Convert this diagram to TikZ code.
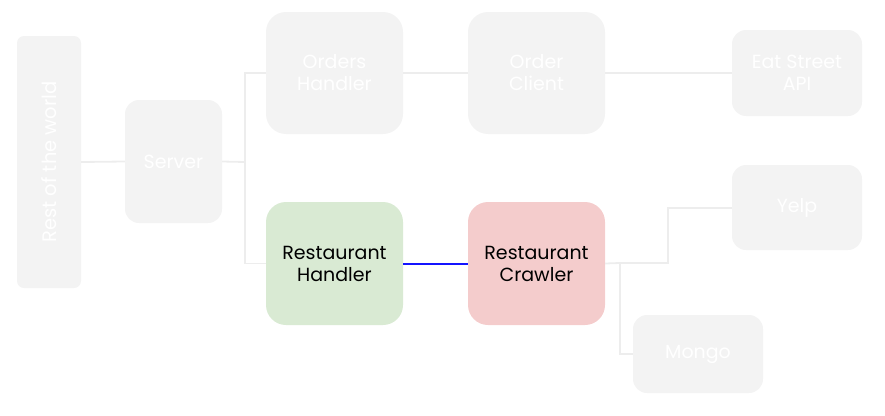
\documentclass[tikz,border=0pt]{standalone}
\usepackage{fontspec}
\setmainfont{Poppins}
\definecolor{boxgray}{HTML}{F3F3F3}
\definecolor{boxgreen}{HTML}{D9EAD3}
\definecolor{boxred}{HTML}{F4CCCC}
\definecolor{linegray}{HTML}{EDEDED}
\definecolor{lineblue}{RGB}{20,20,255}
\begin{document}
\begin{tikzpicture}[x=1pt,y=-1pt,
  box/.style={draw=none,fill=boxgray,rounded corners=20pt,inner sep=0pt,align=center,
    font=\fontsize{19}{22}\selectfont,text=white},
  gbox/.style={box,fill=boxgreen,text=black},
  rbox/.style={box,fill=boxred,text=black},
  conn/.style={draw=linegray,line width=1.8pt},
  bconn/.style={draw=lineblue,line width=2pt}]
\useasboundingbox (0,0) rectangle (885,415);
\node[box,rounded corners=7pt,minimum width=64pt,minimum height=252pt] (rest) at (49,162) {};
\node[rotate=90,font=\fontsize{19.5}{22}\selectfont,text=white] (resttext) at (rest.center) {Rest of the world};
\node[box,rounded corners=14pt,minimum width=97pt,minimum height=123pt] (server) at (173.5,161.5) {Server};
\node[box,minimum width=137pt,minimum height=122pt] (oh) at (334.5,73) {Orders\\Handler};
\node[box,minimum width=137pt,minimum height=122pt] (oc) at (536.5,73) {Order\\Client};
\node[box,rounded corners=14pt,minimum width=130pt,minimum height=86pt] (eat) at (797,73) {Eat Street\\API};
\node[gbox,minimum width=137pt,minimum height=123pt] (rh) at (334.5,263.5) {Restaurant\\Handler};
\node[rbox,minimum width=137pt,minimum height=123pt] (rc) at (536.5,263.5) {Restaurant\\Crawler};
\node[box,rounded corners=14pt,minimum width=130pt,minimum height=85pt] (yelp) at (797,207.5) {Yelp};
\node[box,rounded corners=14pt,minimum width=130pt,minimum height=78pt] (mongo) at (698,354) {Mongo};
\coordinate (sj) at (245,162);
\coordinate (yj) at (668,208);
\coordinate (mj) at (620,263);
\draw[conn] (rest.east) -- (server.west);
\draw[conn] (server.east) -- (sj);
\draw[conn] (oh.west) -| (sj) |- (rh.west);
\draw[conn] (oh.east) -- (oc.west);
\draw[conn] (oc.east) -- (eat.west);
\draw[conn] (rc.east) -- (mj) |- (mongo.west);
\draw[conn] (mj) -- (yj |- mj) -- (yj) -- (yelp.west |- yj);
\draw[bconn] (rh.east) -- (rc.west);
\end{tikzpicture}
\end{document}
